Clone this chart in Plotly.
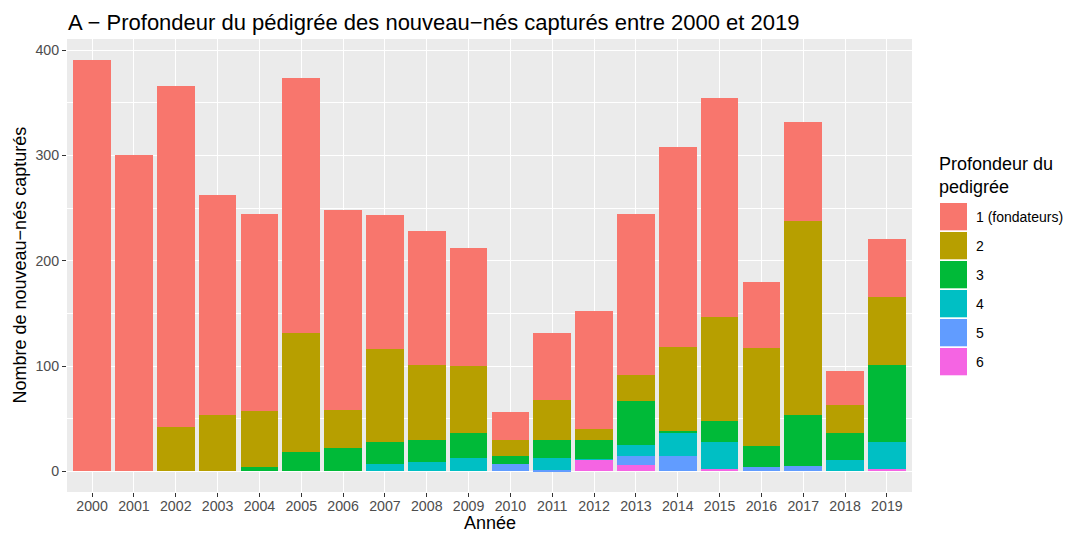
import plotly.graph_objects as go

years = [str(y) for y in range(2000, 2020)]
level_names = ["1 (fondateurs)", "2", "3", "4", "5", "6"]
level_colors = ["#F8766D", "#B79F00", "#00BA38", "#00BFC4", "#619CFF", "#F564E3"]

lvl1 = [391, 300, 324, 208, 187, 243, 190, 127, 127, 112, 26, 63, 112, 152, 190, 208, 63, 94, 32, 55]
lvl2 = [0, 0, 42, 54, 53, 113, 36, 88, 71, 64, 15, 38, 10, 25, 80, 99, 93, 184, 27, 65]
lvl3 = [0, 0, 0, 0, 4, 18, 22, 21, 21, 23, 8, 17, 18, 42, 1, 20, 20, 49, 25, 73]
lvl4 = [0, 0, 0, 0, 0, 0, 0, 7, 9, 13, 0, 12, 1, 10, 22, 26, 0, 0, 11, 26]
lvl5 = [0, 0, 0, 0, 0, 0, 0, 0, 0, 0, 7, 1, 0, 9, 15, 0, 4, 5, 0, 0]
lvl6 = [0, 0, 0, 0, 0, 0, 0, 0, 0, 0, 0, 0, 11, 6, 0, 2, 0, 0, 0, 2]
levels = [lvl1, lvl2, lvl3, lvl4, lvl5, lvl6]

y_ticks = [0, 100, 200, 300, 400]

FONT = "Liberation Sans, Arial, Helvetica, sans-serif"
TICK_SIZE = 14.2
LEGEND_TEXT_SIZE = 14
AXIS_TITLE_SIZE = 18
TITLE_SIZE = 22

fig = go.Figure()
# ggplot stacks level 6 at the bottom, level 1 on top
for name, color, vals in reversed(list(zip(level_names, level_colors, levels))):
    fig.add_trace(go.Bar(x=years, y=vals, name=name, marker_color=color,
                         marker_line_width=0, showlegend=False))

# The page body has an 8px margin on every side: the figure is drawn at (8, 8)
# and sized so that it fits in the 1075x537 window without scrollbars.
OFF = 8
W, H = 1075 - 2 * OFF, 537 - 2 * OFF
# panel geometry in page pixels (as in the reference)
L, R, T, B = 67, 912, 39, 492
pw, ph = R - L, B - T

def px_x(p):
    return (p - L) / pw

def px_y(p):
    return (B - p) / ph

ymax = max(sum(v) for v in zip(*levels))
ypad = 0.05 * ymax

fig.update_layout(
    width=W, height=H,
    margin=dict(l=L - OFF, r=W - (R - OFF), t=T - OFF, b=H - (B - OFF), pad=0, autoexpand=False),
    barmode="stack", bargap=0.1,
    plot_bgcolor="#EBEBEB", paper_bgcolor="white",
    font=dict(family=FONT, color="black"),
    xaxis=dict(
        type="category", range=[-0.6, len(years) - 0.4],
        showgrid=True, gridcolor="white", gridwidth=1.4,
        ticks="outside", ticklen=4, tickwidth=1, tickcolor="#333333",
        tickfont=dict(size=TICK_SIZE, color="#4D4D4D"),
        automargin=False, showline=False, zeroline=False, fixedrange=True,
    ),
    yaxis=dict(
        range=[-ypad, ymax + ypad],
        tickvals=y_ticks,
        showgrid=True, gridcolor="white", gridwidth=1.4,
        minor=dict(dtick=50, tick0=0, showgrid=True, gridcolor="white", gridwidth=0.6, ticklen=0),
        ticks="outside", ticklen=4, tickwidth=1, tickcolor="#333333",
        tickfont=dict(size=TICK_SIZE, color="#4D4D4D"),
        automargin=False, showline=False, zeroline=False, fixedrange=True,
    ),
)
try:
    fig.update_xaxes(ticklabelstandoff=-3)
except Exception:
    pass

# title and axis titles
fig.add_annotation(text="A − Profondeur du pédigrée des nouveau−nés capturés entre 2000 et 2019",
                   xref="paper", yref="paper", x=px_x(66), y=px_y(8),
                   xanchor="left", yanchor="top", showarrow=False,
                   font=dict(size=TITLE_SIZE, color="black"))
fig.add_annotation(text="Année", xref="paper", yref="paper",
                   x=px_x((L + R) / 2), y=px_y(523), xanchor="center", yanchor="middle",
                   showarrow=False, font=dict(size=AXIS_TITLE_SIZE, color="black"))
fig.add_annotation(text="Nombre de nouveau−nés capturés", xref="paper", yref="paper",
                   x=px_x(19), y=px_y((T + B) / 2), xanchor="center", yanchor="middle",
                   textangle=-90, showarrow=False,
                   font=dict(size=AXIS_TITLE_SIZE, color="black"))

# legend drawn in ggplot style
key_left, key_right = 940, 967
key_top0, key_pitch, key_h = 203, 29, 27.3
fig.add_annotation(text="Profondeur du<br>pedigrée", xref="paper", yref="paper",
                   x=px_x(937), y=px_y(175), xanchor="left", yanchor="middle",
                   showarrow=False, align="left", font=dict(size=AXIS_TITLE_SIZE, color="black"))
for i, (name, color) in enumerate(zip(level_names, level_colors)):
    top = key_top0 + i * key_pitch
    fig.add_shape(type="rect", xref="paper", yref="paper",
                  x0=px_x(key_left), x1=px_x(key_right),
                  y0=px_y(top + key_h), y1=px_y(top),
                  fillcolor=color, line_width=0)
    fig.add_annotation(text=name, xref="paper", yref="paper",
                       x=px_x(974), y=px_y(top + key_h / 2), xanchor="left", yanchor="middle",
                       showarrow=False, font=dict(size=LEGEND_TEXT_SIZE, color="black"))

fig.write_html("out.html")
